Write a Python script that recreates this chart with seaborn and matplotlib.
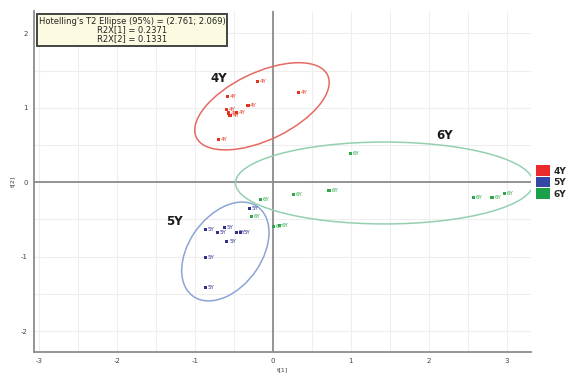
import matplotlib
matplotlib.use("Agg")
import matplotlib.pyplot as plt
from matplotlib.patches import Ellipse, Patch
import numpy as np
import pandas as pd
import seaborn as sns

# Score values t[1], t[2] per sample group
groups = ["4Y", "5Y", "6Y"]
t1_4y = [-0.20, 0.33, -0.58, -0.32, -0.60, -0.57, -0.55, -0.47, -0.70]
t2_4y = [1.35, 1.21, 1.15, 1.03, 0.98, 0.93, 0.90, 0.94, 0.58]
t1_5y = [-0.30, -0.87, -0.71, -0.62, -0.47, -0.41, -0.59, -0.87, -0.87]
t2_5y = [-0.35, -0.64, -0.67, -0.61, -0.67, -0.68, -0.80, -1.01, -1.41]
t1_6y = [0.99, 0.26, 0.72, 2.57, 2.81, 2.97, -0.16, -0.28, 0.01, 0.08]
t2_6y = [0.39, -0.165, -0.11, -0.20, -0.20, -0.15, -0.23, -0.455, -0.59, -0.58]

# Group ellipses: centre (t1, t2), full width, full height, rotation (deg)
ell_centers = [(-0.14, 1.02), (-0.61, -0.93), (1.43, -0.01)]
ell_widths = [1.88, 1.46, 3.82]
ell_heights = [0.90, 0.94, 1.10]
ell_angles = [27, 57, 0]

# Bold group captions
caption_pos = [(-0.70, 1.40), (-1.26, -0.53), (2.20, 0.63)]

summary_lines = ["Hotelling's T2 Ellipse (95%) = (2.761; 2.069)",
                 "R2X[1] = 0.2371",
                 "R2X[2] = 0.1331"]

x_ticks = [-3, -2, -1, 0, 1, 2, 3]
y_ticks = [-2, -1, 0, 1, 2]

point_colors = {"4Y": "#e2341f", "5Y": "#2e2f8e", "6Y": "#2fa84a"}
legend_colors = {"4Y": "#ec2a2c", "5Y": "#3447a6", "6Y": "#1aa04a"}
ellipse_colors = ["#e46a62", "#8aa5d6", "#94d0b0"]

df = pd.DataFrame({
    "t1": t1_4y + t1_5y + t1_6y,
    "t2": t2_4y + t2_5y + t2_6y,
    "group": ["4Y"] * len(t1_4y) + ["5Y"] * len(t1_5y) + ["6Y"] * len(t1_6y),
})

sns.set_theme(style="white")
plt.rcParams["font.family"] = ["DejaVu Sans"]

fig = plt.figure(figsize=(5.75, 3.75), dpi=100)
ax = fig.add_axes([34 / 575, 23 / 375, (531 - 34) / 575, (364 - 23) / 375])

ax.set_xlim(-3.064, 3.31)
ax.set_ylim(-2.28, 2.30)

# light grid at half units
grid_x = np.arange(-3.0, 3.31, 0.5)
grid_y = np.arange(-2.0, 2.31, 0.5)
ax.set_xticks(x_ticks)
ax.set_yticks(y_ticks)
ax.set_xticks(grid_x, minor=True)
ax.set_yticks(grid_y, minor=True)
ax.grid(True, which="both", color="#eeeeee", linewidth=0.8)
ax.set_axisbelow(True)

for side in ["top", "right"]:
    ax.spines[side].set_visible(False)
for side in ["left", "bottom"]:
    ax.spines[side].set_color("#8c8c8c")
    ax.spines[side].set_linewidth(1.3)

ax.axhline(0, color="#8c8c8c", linewidth=1.3, zorder=1)
ax.axvline(0, color="#8c8c8c", linewidth=1.3, zorder=1)

ax.tick_params(axis="both", which="both", direction="out", color="#8c8c8c",
               labelsize=5, labelcolor="#444444", length=2.5, width=0.8, pad=2)
ax.tick_params(axis="both", which="minor", length=2)
ax.set_xticklabels([str(v) for v in x_ticks])
ax.set_yticklabels([str(v) for v in y_ticks])

ax.set_xlabel("t[1]", fontsize=4.5, color="#444444", labelpad=2)
ax.set_ylabel("t[2]", fontsize=4.5, color="#444444", labelpad=4)

for (cx, cy), w, h, a, c in zip(ell_centers, ell_widths, ell_heights,
                                 ell_angles, ellipse_colors):
    ax.add_patch(Ellipse((cx, cy), w, h, angle=a, fill=False,
                         edgecolor=c, linewidth=1.1, zorder=2))

sns.scatterplot(data=df, x="t1", y="t2", hue="group", palette=point_colors,
                marker="s", s=5, linewidth=0, legend=False, ax=ax, zorder=3)

for _, row in df.iterrows():
    ax.annotate(row["group"], (row["t1"], row["t2"]), xytext=(1.6, 0),
                textcoords="offset points", ha="left", va="center",
                fontsize=4, color=point_colors[row["group"]], zorder=4)

for g, (cx, cy) in zip(groups, caption_pos):
    ax.text(cx, cy, g, ha="center", va="center", fontsize=8.5,
            fontweight="bold", color="#1a1a1a")

fig.text(132 / 575, 1 - 30 / 375, "\n".join(summary_lines),
         ha="center", va="center", multialignment="center",
         fontsize=6.0, color="#222222", linespacing=1.0,
         bbox=dict(boxstyle="square,pad=0.25", facecolor="#fcfbe2",
                   edgecolor="#444444", linewidth=1.4))

handles = [Patch(facecolor=legend_colors[g], edgecolor="none", label=g)
           for g in groups]
fig.legend(handles=handles, loc="center left",
           bbox_to_anchor=(532 / 575, 1 - 182 / 375), frameon=False,
           handlelength=1.6, handleheight=1.35, handletextpad=0.4,
           labelspacing=0.15, borderaxespad=0,
           prop={"size": 6.5, "weight": "bold"})

fig.savefig("out.png", dpi=100)
